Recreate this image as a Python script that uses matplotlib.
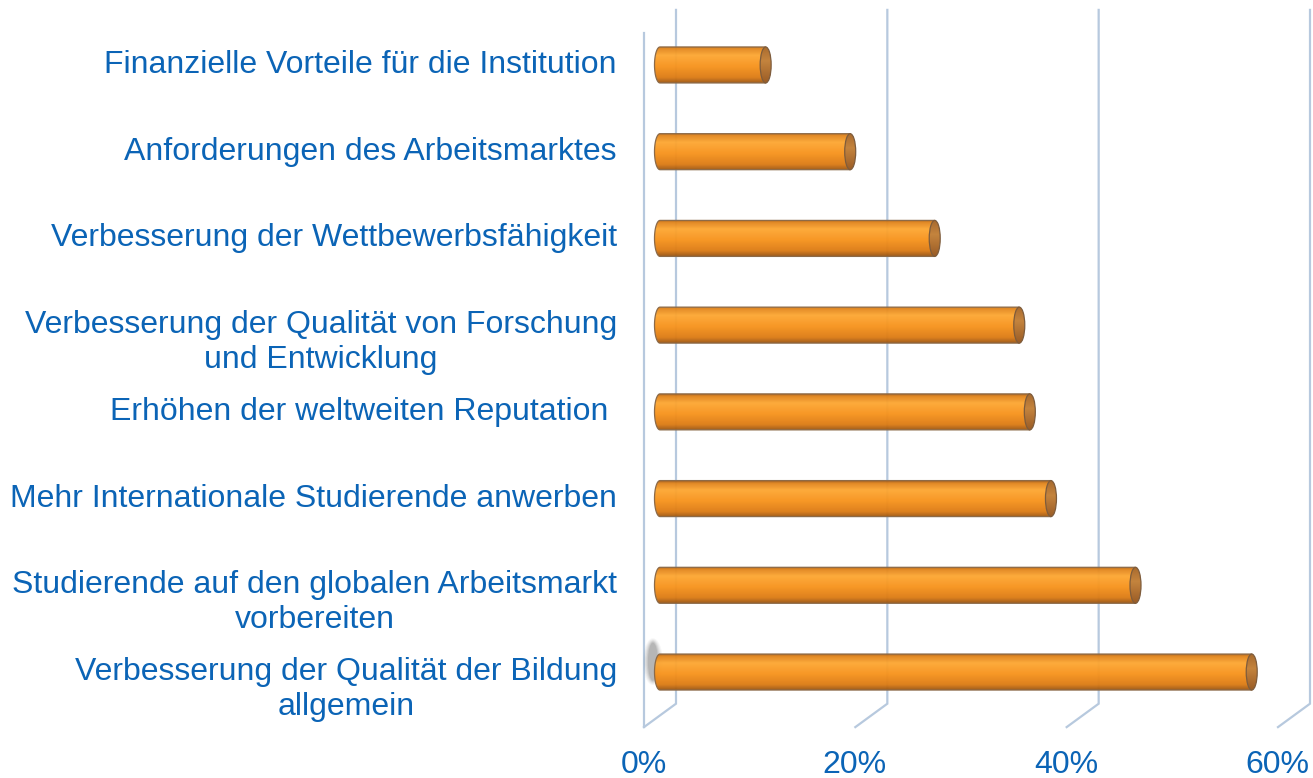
import numpy as np
import matplotlib
matplotlib.use("Agg")
import matplotlib.pyplot as plt
from matplotlib.path import Path
from matplotlib.patches import PathPatch, Ellipse
from matplotlib.colors import LinearSegmentedColormap
import matplotlib.transforms as mtransforms

plt.rcParams['font.family'] = ['Liberation Sans', 'DejaVu Sans']

# ---- data (bottom to top) ----
categories = [
    "Verbesserung der Qualität der Bildung\nallgemein",
    "Studierende auf den globalen Arbeitsmarkt\nvorbereiten",
    "Mehr Internationale Studierende anwerben",
    "Erhöhen der weltweiten Reputation ",
    "Verbesserung der Qualität von Forschung\nund Entwicklung",
    "Verbesserung der Wettbewerbsfähigkeit",
    "Anforderungen des Arbeitsmarktes",
    "Finanzielle Vorteile für die Institution",
]
values = [56, 45, 37, 35, 34, 26, 18, 10]
tick_values = [0, 20, 40, 60]
tick_labels = ["0%", "20%", "40%", "60%"]

TEXT_BLUE = "#0B64B6"
GRID = "#B7C9DE"
FS = 23

W, H, DPI = 1313, 778, 100
fig = plt.figure(figsize=(W / DPI, H / DPI), dpi=DPI)

# axes geometry (pixels)
x0_px, x60_px = 660, 1294
px_x = (x60_px - x0_px) / 60.0
XMIN, XMAX = -3.0, 62.0
left_px = x0_px + XMIN * px_x
right_px = x0_px + XMAX * px_x
ytop_px, ybot_px = 21.6, 715.4
ax = fig.add_axes([left_px / W, (H - ybot_px) / H, (right_px - left_px) / W, (ybot_px - ytop_px) / H])
ax.set_xlim(XMIN, XMAX)
ax.set_ylim(-0.5, len(categories) - 0.5)
for s in ax.spines.values():
    s.set_visible(False)
ax.set_yticks([])
ax.tick_params(axis='x', length=0, pad=25, labelsize=FS, labelcolor=TEXT_BLUE)

px_y = (ybot_px - ytop_px) / len(categories)

# 3D depth offsets (data units)
dx = 16.0 / px_x
dy = 11.7 / px_y
ylo, yhi = -0.5, len(categories) - 0.5

# gridlines: back vertical + diagonal to front
for v in tick_values:
    xb = v + dx
    xf = v - dx
    ax.plot([xb, xb, xf], [yhi + dy, ylo + dy, ylo - dy], color=GRID, lw=1.6,
            clip_on=False, zorder=1, solid_joinstyle='miter')
# left wall front edge
ax.plot([-dx, -dx], [ylo - dy, yhi - dy], color=GRID, lw=1.6, clip_on=False, zorder=1)

ax.set_xticks(tick_values)
ax.set_xticklabels(tick_labels)
offset = mtransforms.ScaledTranslation(-16.5 / DPI, 0, fig.dpi_scale_trans)
for lab in ax.get_xticklabels():
    lab.set_transform(lab.get_transform() + offset)

# cylinder bars
bar_h = 36.0 / px_y
cap_w = 11.0 / px_x
body_cmap = LinearSegmentedColormap.from_list("body", [
    (0.00, "#A95E16"),
    (0.06, "#E0841C"),
    (0.25, "#FDA733"),
    (0.55, "#F7931C"),
    (0.85, "#DC7B14"),
    (1.00, "#9C5612"),
])
cap_cmap = LinearSegmentedColormap.from_list("cap", [
    (0.0, "#A86A2E"), (0.4, "#C4843E"), (1.0, "#9A5C26")])
grad = np.linspace(0, 1, 256).reshape(-1, 1)

a = cap_w / 2
b = bar_h / 2

# soft shadow near left wall of the lowest bar
for k, al in enumerate([0.04, 0.06, 0.08, 0.10, 0.12]):
    sh = Ellipse((-a - 0.15, 0.12), cap_w * (1.8 - 0.22 * k), bar_h * (1.3 - 0.06 * k),
                 facecolor='#303030', edgecolor='none', alpha=al, zorder=2)
    ax.add_patch(sh)

for i, v in enumerate(values):
    yc = i
    t = np.linspace(np.pi / 2, 3 * np.pi / 2, 40)
    ex = a * np.cos(t)
    ey = yc + b * np.sin(t)
    xs = np.concatenate([ex, [v, v]])
    ys = np.concatenate([ey, [yc - b, yc + b]])
    verts = np.column_stack([xs, ys])
    verts = np.vstack([verts, verts[:1]])
    path = Path(verts, closed=True)
    im = ax.imshow(grad, cmap=body_cmap, aspect='auto', alpha=0.96,
                   extent=(-a, v, yc - b, yc + b), origin='upper',
                   interpolation='bilinear', zorder=3)
    clip = PathPatch(path, transform=ax.transData, facecolor='none', edgecolor='none')
    ax.add_patch(clip)
    im.set_clip_path(clip)
    outline = PathPatch(path, facecolor='none', edgecolor='#8C6A48', lw=0.9, zorder=4)
    ax.add_patch(outline)
    # end cap
    imc = ax.imshow(grad, cmap=cap_cmap, aspect='auto',
                    extent=(v - a, v + a, yc - b, yc + b), origin='upper',
                    interpolation='bilinear', zorder=5)
    capclip = Ellipse((v, yc), cap_w, bar_h, transform=ax.transData, facecolor='none', edgecolor='none')
    ax.add_patch(capclip)
    imc.set_clip_path(capclip)
    cap = Ellipse((v, yc), cap_w, bar_h, facecolor='none', edgecolor='#7E5C3C', lw=0.9, zorder=6)
    ax.add_patch(cap)

ax.set_xlim(XMIN, XMAX)
ax.set_ylim(-0.5, len(categories) - 0.5)

# category labels (first line centred on the bar), right edge at x = 617 px
LABEL_RIGHT_PX = 617
LINE_PX = 35.0
for i, lab in enumerate(categories):
    nl = lab.count("\n")
    ax.annotate(lab, xy=(0, i), xycoords=ax.get_yaxis_transform(),
                xytext=(-(left_px - LABEL_RIGHT_PX) * 72 / DPI,
                        -(8 + nl * LINE_PX) * 72 / DPI),
                textcoords='offset points',
                ha='right', va='baseline', multialignment='center',
                fontsize=FS, color=TEXT_BLUE, linespacing=1.23, annotation_clip=False)

fig.savefig("out.png", dpi=DPI)
